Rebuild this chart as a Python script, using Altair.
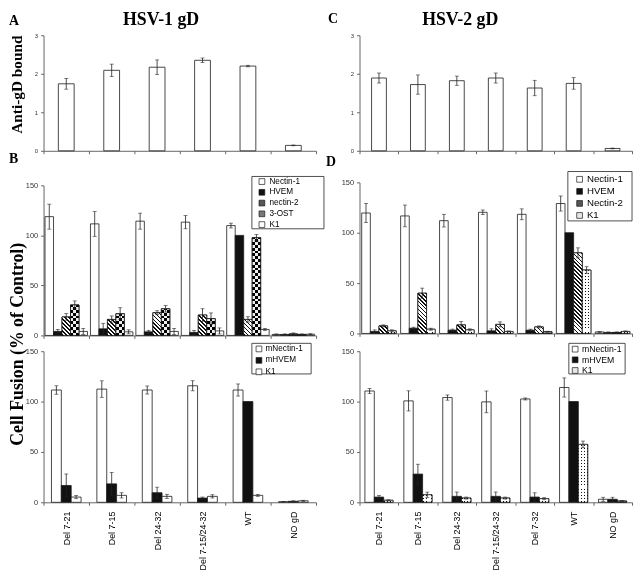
import altair as alt
import pandas as pd

# ---------------- data ----------------
cats1 = ["Del 7-21", "Del 7-15", "Del 24-32", "Del 7-15/24-32", "WT", "NO gD"]
cats2 = ["Del 7-21", "Del 7-15", "Del 24-32", "Del 7-15/24-32", "Del 7-32", "WT", "NO gD"]

# Panel A (HSV-1 gD, anti-gD bound)
a_val = [1.74, 2.09, 2.17, 2.35, 2.20, 0.14]
a_err = [0.14, 0.16, 0.19, 0.06, 0.02, 0.01]
# Panel C (HSV-2 gD)
c_val = [1.89, 1.72, 1.82, 1.89, 1.63, 1.75, 0.06]
c_err = [0.13, 0.25, 0.12, 0.13, 0.20, 0.15, 0.01]

# Panel B top (HSV-1, human receptors)
bt_series = ["Nectin-1", "HVEM", "nectin-2", "3-OST", "K1"]
bt_nectin1 = [118.7, 111.5, 114.2, 113.2, 109.8, 1.0]
bt_nectin1_err = [12.5, 12.5, 8.0, 6.6, 2.4, 0.5]
bt_hvem = [4.0, 6.6, 3.6, 3.0, 100.0, 1.0]
bt_hvem_err = [2.0, 5.5, 1.5, 2.0, 0.0, 0.5]
bt_nectin2 = [18.5, 16.0, 22.7, 20.4, 16.0, 1.5]
bt_nectin2_err = [3.3, 3.5, 2.0, 6.3, 2.7, 1.0]
bt_ost = [30.5, 21.7, 26.6, 16.8, 97.7, 1.0]
bt_ost_err = [4.0, 6.0, 3.3, 5.7, 3.3, 0.5]
bt_k1 = [4.0, 3.6, 4.0, 4.5, 6.0, 1.2]
bt_k1_err = [3.0, 2.0, 3.0, 3.0, 1.0, 0.5]

# Panel B bottom (HSV-1, mouse receptors)
bb_series = ["mNectin-1", "mHVEM", "K1"]
bb_mnectin1 = [111.5, 112.4, 111.5, 115.7, 111.5, 0.6]
bb_mnectin1_err = [4.2, 8.2, 4.0, 5.0, 6.0, 0.3]
bb_mhvem = [16.7, 18.3, 9.5, 4.2, 100.0, 1.0]
bb_mhvem_err = [11.4, 11.4, 5.5, 1.0, 0.0, 0.5]
bb_k1 = [5.2, 6.9, 5.9, 5.9, 6.9, 1.5]
bb_k1_err = [1.6, 2.6, 2.0, 1.6, 1.0, 0.5]

# Panel D top (HSV-2, human receptors)
dt_series = ["Nectin-1", "HVEM", "Nectin-2", "K1"]
dt_nectin1 = [119.6, 116.7, 112.0, 120.3, 118.3, 129.0, 1.5]
dt_nectin1_err = [9.5, 10.8, 6.3, 2.3, 5.4, 7.5, 0.5]
dt_hvem = [2.0, 5.2, 3.3, 2.6, 3.3, 100.0, 1.0]
dt_hvem_err = [1.5, 1.0, 1.0, 2.0, 1.0, 0.0, 0.5]
dt_nectin2 = [7.5, 40.0, 8.5, 9.0, 6.5, 80.0, 1.0]
dt_nectin2_err = [1.0, 5.0, 3.3, 2.5, 1.0, 5.0, 0.5]
dt_k1 = [2.6, 4.2, 3.6, 2.0, 1.7, 63.0, 2.0]
dt_k1_err = [1.0, 1.0, 1.0, 0.5, 0.5, 3.3, 0.5]

# Panel D bottom (HSV-2, mouse receptors)
db_series = ["mNectin-1", "mHVEM", "K1"]
db_mnectin1 = [110.5, 100.7, 104.0, 99.7, 102.6, 114.0, 3.0]
db_mnectin1_err = [2.6, 10.0, 2.6, 10.8, 1.0, 9.5, 2.0]
db_mhvem = [5.2, 28.0, 5.9, 5.9, 5.2, 100.0, 3.0]
db_mhvem_err = [1.7, 9.8, 4.3, 4.3, 4.2, 0.0, 2.0]
db_k1 = [2.0, 7.5, 4.2, 4.2, 3.6, 57.5, 1.3]
db_k1_err = [0.5, 2.6, 1.0, 1.0, 1.0, 3.3, 0.3]

# ---------------- layout ----------------
OX, OY = 8, 10
W, H = 634, 566
INK = "#111111"
EDGE = "#1a1a1a"
AXC = "#666666"


def px(v):
    return v - OX


def py(v):
    return v - OY


LEFT = (px(44), px(320))
RIGHT = (px(364), px(640))


def make_df(cats, series, vals, errs):
    rows = []
    for s, vs, es in zip(series, vals, errs):
        for c, v, e in zip(cats, vs, es):
            rows.append(dict(cat=c, ser=s, val=v, err=e, lo=v - e, hi=v + e))
    return pd.DataFrame(rows)


def stripes(n_t, frac):
    stops = []
    t = 0.0
    while t < 1.0 - 1e-9:
        a = t
        b = min(t + n_t * frac, 1.0)
        c = min(t + n_t, 1.0)
        stops += [{"offset": a, "color": INK}, {"offset": b, "color": INK},
                  {"offset": b, "color": "white"}, {"offset": c, "color": "white"}]
        t += n_t
    return stops


def hatch_grad(w, h, period=4.0):
    L = w + h
    k = L / (w * w + h * h)
    return {"gradient": "linear", "x1": 0, "y1": 1, "x2": k * w, "y2": 1 - k * h,
            "stops": stripes(period / L, 0.45)}


def vgrad(w, cell, frac):
    return {"gradient": "linear", "x1": 0, "y1": 0, "x2": 1, "y2": 0,
            "stops": stripes(cell / w, frac)}


def hgrad(h, cell, frac):
    return {"gradient": "linear", "x1": 0, "y1": 1, "x2": 0, "y2": 0,
            "stops": stripes(cell / h, frac)}


def legend_at(x, y, size, rowpad, laboff):
    return alt.Legend(orient="none", legendX=x, legendY=y, title=None,
                      padding=0, symbolType="square", symbolSize=34,
                      symbolStrokeWidth=0.7, symbolOffset=0,
                      labelFont="Liberation Sans", labelFontSize=size,
                      labelColor="black", rowPadding=rowpad, labelOffset=laboff,
                      labelLimit=0)


def frame(x0, x1, y0, y1):
    """white legend frame (image coordinates)"""
    return alt.Chart(pd.DataFrame({"k": [0]})).mark_rect(
        fill="white", stroke="#222", strokeWidth=0.8).encode(
        x=alt.value(px(x0)), x2=alt.value(px(x1)),
        y=alt.value(py(y0)), y2=alt.value(py(y1)))


def panel(df, cats, series, fills, xr, yr, ymax, ticks, group_w, ylab_size,
          show_x_labels, legend, patterns):
    n_c, n_s = len(cats), len(series)
    step = (xr[1] - xr[0]) / n_c
    bw = group_w / n_s
    pout = (step - group_w) / 2 / bw
    ppu = (yr[0] - yr[1]) / ymax
    xscale = alt.Scale(domain=cats, range=list(xr), paddingInner=0, paddingOuter=0)
    xoscale = alt.Scale(domain=series, paddingInner=0, paddingOuter=pout)
    yscale = alt.Scale(domain=[0, ymax], range=list(yr), nice=False, zero=True)
    xaxis = alt.Axis(orient="bottom", offset=yr[0] - H, tickBand="extent", tickSize=3,
                     labels=show_x_labels, labelAngle=-90, labelFontSize=9,
                     labelFont="Liberation Sans", labelColor="black", labelPadding=6,
                     labelLimit=0, title=None, domainColor=AXC, tickColor=AXC,
                     grid=False)
    yaxis = alt.Axis(orient="left", offset=-xr[0], values=ticks, tickSize=3,
                     labelFontSize=ylab_size, labelFont="Liberation Sans",
                     labelColor="#333", labelPadding=3, title=None,
                     domainColor=AXC, tickColor=AXC, grid=False)
    X = alt.X("cat:N", scale=xscale, axis=xaxis)
    Xn = alt.X("cat:N", scale=xscale, axis=None)
    XO = alt.XOffset("ser:N", scale=xoscale)
    Yv = alt.Y("val:Q", scale=yscale, axis=yaxis)
    Yn = alt.Y("val:Q", scale=yscale, axis=None)

    layers = [alt.Chart(df).mark_bar(stroke=EDGE, strokeWidth=0.8).encode(
        x=X, xOffset=XO, y=Yv,
        fill=alt.Fill("ser:N", scale=alt.Scale(domain=series, range=fills),
                      legend=legend))]

    for ser, kind in patterns.items():
        sub = df[df.ser == ser]
        for c, v in zip(sub.cat, sub.val):
            h = v * ppu
            if h < 2:
                continue
            base = alt.Chart(df).transform_filter(
                (alt.datum.ser == ser) & (alt.datum.cat == c))
            enc = dict(x=Xn, xOffset=XO, y=Yn)
            if kind == "hatch":
                layers.append(base.mark_bar(fill=hatch_grad(bw, h), strokeWidth=0).encode(**enc))
            elif kind == "checker":
                cell = bw / 3.0
                layers.append(base.mark_bar(fill=vgrad(bw, cell * 2, 0.5), strokeWidth=0).encode(**enc))
                layers.append(base.mark_bar(fill=hgrad(h, cell * 2, 0.5), strokeWidth=0,
                                            blend="difference").encode(**enc))
            elif kind == "dots":
                layers.append(base.mark_bar(fill=vgrad(bw, 3.0, 0.33), strokeWidth=0).encode(**enc))
                layers.append(base.mark_bar(fill=hgrad(h, 3.0, 0.33), strokeWidth=0,
                                            blend="lighten").encode(**enc))
        layers.append(alt.Chart(df).transform_filter(alt.datum.ser == ser).mark_bar(
            filled=False, stroke=EDGE, strokeWidth=0.8).encode(x=Xn, xOffset=XO, y=Yn))

    edf = df[df.err > 0]
    layers.append(alt.Chart(edf).mark_rule(color="#222", strokeWidth=0.8).encode(
        x=Xn, xOffset=XO, y=alt.Y("lo:Q", scale=yscale, axis=None), y2="hi:Q"))
    for f in ["lo", "hi"]:
        layers.append(alt.Chart(edf).mark_tick(color="#222", thickness=0.8, size=4).encode(
            x=Xn, xOffset=XO, y=alt.Y(f + ":Q", scale=yscale, axis=None)))
    return layers


# ---------------- panels ----------------
dfA = make_df(cats1, ["gD"], [a_val], [a_err])
dfC = make_df(cats2, ["gD"], [c_val], [c_err])
dfBT = make_df(cats1, bt_series, [bt_nectin1, bt_hvem, bt_nectin2, bt_ost, bt_k1],
               [bt_nectin1_err, bt_hvem_err, bt_nectin2_err, bt_ost_err, bt_k1_err])
dfBB = make_df(cats1, bb_series, [bb_mnectin1, bb_mhvem, bb_k1],
               [bb_mnectin1_err, bb_mhvem_err, bb_k1_err])
dfDT = make_df(cats2, dt_series, [dt_nectin1, dt_hvem, dt_nectin2, dt_k1],
               [dt_nectin1_err, dt_hvem_err, dt_nectin2_err, dt_k1_err])
dfDB = make_df(cats2, db_series, [db_mnectin1, db_mhvem, db_k1],
               [db_mnectin1_err, db_mhvem_err, db_k1_err])

layers = []
layers += panel(dfA, cats1, ["gD"], ["white"], LEFT, (py(151), py(34)), 3, [0, 1, 2, 3],
                16, 6, False, None, {})
layers += panel(dfC, cats2, ["gD"], ["white"], RIGHT, (py(151), py(34)), 3, [0, 1, 2, 3],
                15, 6, False, None, {})
layers += panel(dfBT, cats1, bt_series, ["white", INK, "#555555", "#777777", "white"], LEFT,
                (py(338), py(186)), 150, [0, 50, 100, 150], 43, 7.5, False,
                legend_at(px(261), py(178), 8.3, 0.9, 3.5),
                {"nectin-2": "hatch", "3-OST": "checker"})
layers += panel(dfBB, cats1, bb_series, ["white", INK, "white"], LEFT,
                (py(507), py(354)), 150, [0, 50, 100, 150], 30, 7.5, True,
                legend_at(px(258), py(347.5), 8.3, 1.6, 2.5), {})
layers += panel(dfDT, cats2, dt_series, ["white", INK, "#555555", "#e6e6e6"], RIGHT,
                (py(336), py(183)), 150, [0, 50, 100, 150], 35, 7.5, False,
                legend_at(px(582), py(175), 9.8, 1.2, 2.5),
                {"Nectin-2": "hatch", "K1": "dots"})
layers += panel(dfDB, cats2, db_series, ["white", INK, "#e6e6e6"], RIGHT,
                (py(507), py(354)), 150, [0, 50, 100, 150], 28.5, 7.5, True,
                legend_at(px(578), py(347.5), 8.8, 0.8, 2.5), {"K1": "dots"})

frames = [
    frame(255, 328, 177, 230),
    frame(255, 315, 346, 377),
    frame(575, 640, 172, 222),
    frame(576, 633, 346, 377),
]


def label(text, x, y, size, angle=0, align="center"):
    return alt.Chart(pd.DataFrame({"t": [text]})).mark_text(
        font="Liberation Serif", fontWeight="bold", fontSize=size, angle=angle,
        align=align, baseline="alphabetic", color="black").encode(
        text="t:N", x=alt.value(x), y=alt.value(y))


texts = [
    label("HSV-1 gD", 155, 14, 18),
    label("HSV-2 gD", 458, 14, 18),
    label("A", 1, 14, 14, align="left"),
    label("B", 1, 153, 14, align="left"),
    label("C", 324, 12, 14, align="left"),
    label("D", 322, 156, 14, align="left"),
    label("Anti-gD bound", 14, 74, 15.5, angle=270),
    label("Cell Fusion (% of Control)", 15, 337, 18, angle=270),
]

chart = alt.layer(*layers, *frames, *texts).resolve_scale(
    x="independent", y="independent", xOffset="independent", fill="independent"
).properties(
    width=W, height=H, padding=0, autosize=alt.AutoSizeParams(type="none"),
    background="white"
).configure_view(stroke=None)

chart.save("out.html", embed_options={"renderer": "svg", "actions": False})
